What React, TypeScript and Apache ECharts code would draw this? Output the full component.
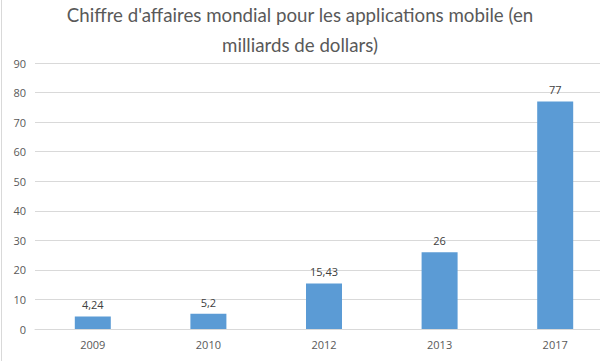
import React, { useEffect, useRef } from "react";
import * as echarts from "echarts";

const categories = ["2009", "2010", "2012", "2013", "2017"];
const values = [4.24, 5.2, 15.43, 26, 77];
const yTicks = { min: 0, max: 90, interval: 10 };
const titleText = "Chiffre d'affaires mondial pour les applications mobile (en\nmilliards de dollars)";

export default function App() {
  const ref = useRef<HTMLDivElement>(null);
  useEffect(() => {
    if (!ref.current) return;
    const chart = echarts.init(ref.current, undefined, { renderer: "svg" });
    const font = "'Open Sans', 'Noto Sans', sans-serif";
    chart.setOption({
      animation: false,
      backgroundColor: "#ffffff",
      title: {
        text: titleText,
        left: "center",
        top: 0,
        padding: 0,
        textStyle: {
          fontFamily: "Lato, 'Open Sans', sans-serif",
          fontSize: 18.7,
          fontWeight: "normal",
          color: "#595959",
          lineHeight: 30,
        },
      },
      graphic: [
        {
          type: "line",
          shape: { x1: 1.5, y1: 0, x2: 1.5, y2: 361 },
          style: { stroke: "#d9d9d9", lineWidth: 1 },
        },
      ],
      grid: { left: 35, top: 63, width: 578, height: 266, containLabel: false, outerBoundsMode: "none" },
      xAxis: {
        type: "category",
        data: categories,
        axisTick: { show: false },
        axisLine: { lineStyle: { color: "#d9d9d9" } },
        axisLabel: { color: "#595959", fontFamily: font, fontSize: 11, margin: 10 },
      },
      yAxis: {
        type: "value",
        min: yTicks.min,
        max: yTicks.max,
        interval: yTicks.interval,
        axisLine: { show: false },
        axisTick: { show: false },
        splitLine: { lineStyle: { color: "#d9d9d9" } },
        axisLabel: { color: "#595959", fontFamily: font, fontSize: 11, margin: 9 },
      },
      series: [
        {
          type: "bar",
          data: values,
          barWidth: 36,
          itemStyle: { color: "#5b9bd5" },
          label: {
            show: true,
            position: "top",
            distance: 6,
            color: "#404040",
            fontFamily: font,
            fontSize: 11,
            formatter: (p: any) => String(p.value).replace(".", ","),
          },
        },
      ],
    });
    return () => chart.dispose();
  }, []);
  return <div ref={ref} style={{ width: 600, height: 361, position: "absolute", left: 0, top: 0 }} />;
}
